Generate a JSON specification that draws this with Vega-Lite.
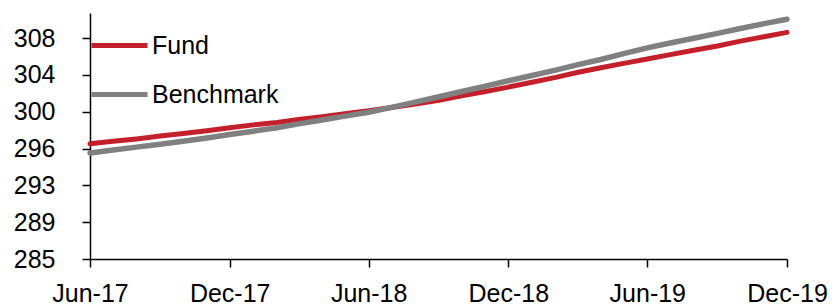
{
  "$schema": "https://vega.github.io/schema/vega-lite/v6.json",
  "width": 697,
  "height": 246,
  "autosize": "none",
  "padding": {"left": 90, "top": 13, "right": 46, "bottom": 47},
  "background": "white",
  "config": {
    "view": {"stroke": null},
    "axis": {
      "grid": false,
      "domainColor": "black",
      "domainWidth": 1.5,
      "tickColor": "black",
      "tickWidth": 1.5,
      "tickSize": 8,
      "labelFont": "Liberation Sans",
      "labelFontSize": 25,
      "labelColor": "black",
      "title": null,
      "labelOverlap": false
    },
    "legend": {
      "labelFont": "Liberation Sans",
      "labelFontSize": 25,
      "labelColor": "black"
    }
  },
  "data": {
    "values": [
      {"date": "2017-06-01", "Fund": 296.9, "Benchmark": 295.95},
      {"date": "2017-07-01", "Fund": 297.15, "Benchmark": 296.25},
      {"date": "2017-08-01", "Fund": 297.4, "Benchmark": 296.55},
      {"date": "2017-09-01", "Fund": 297.7, "Benchmark": 296.85},
      {"date": "2017-10-01", "Fund": 297.95, "Benchmark": 297.15},
      {"date": "2017-11-01", "Fund": 298.25, "Benchmark": 297.5},
      {"date": "2017-12-01", "Fund": 298.55, "Benchmark": 297.85},
      {"date": "2018-01-01", "Fund": 298.85, "Benchmark": 298.2},
      {"date": "2018-02-01", "Fund": 299.1, "Benchmark": 298.55},
      {"date": "2018-03-01", "Fund": 299.4, "Benchmark": 298.95},
      {"date": "2018-04-01", "Fund": 299.7, "Benchmark": 299.35},
      {"date": "2018-05-01", "Fund": 300.0, "Benchmark": 299.75},
      {"date": "2018-06-01", "Fund": 300.3, "Benchmark": 300.15},
      {"date": "2018-07-01", "Fund": 300.65, "Benchmark": 300.65},
      {"date": "2018-08-01", "Fund": 301.0, "Benchmark": 301.2},
      {"date": "2018-09-01", "Fund": 301.4, "Benchmark": 301.75},
      {"date": "2018-10-01", "Fund": 301.85, "Benchmark": 302.3},
      {"date": "2018-11-01", "Fund": 302.3, "Benchmark": 302.85},
      {"date": "2018-12-01", "Fund": 302.75, "Benchmark": 303.4},
      {"date": "2019-01-01", "Fund": 303.25, "Benchmark": 303.95},
      {"date": "2019-02-01", "Fund": 303.75, "Benchmark": 304.5},
      {"date": "2019-03-01", "Fund": 304.25, "Benchmark": 305.05},
      {"date": "2019-04-01", "Fund": 304.75, "Benchmark": 305.6},
      {"date": "2019-05-01", "Fund": 305.2, "Benchmark": 306.2},
      {"date": "2019-06-01", "Fund": 305.65, "Benchmark": 306.8},
      {"date": "2019-07-01", "Fund": 306.1, "Benchmark": 307.3},
      {"date": "2019-08-01", "Fund": 306.55, "Benchmark": 307.8},
      {"date": "2019-09-01", "Fund": 307.0, "Benchmark": 308.3},
      {"date": "2019-10-01", "Fund": 307.5, "Benchmark": 308.8},
      {"date": "2019-11-01", "Fund": 307.95, "Benchmark": 309.3},
      {"date": "2019-12-01", "Fund": 308.4, "Benchmark": 309.75}
    ]
  },
  "transform": [
    {"fold": ["Fund", "Benchmark"], "as": ["series", "value"]}
  ],
  "encoding": {
    "x": {
      "field": "date",
      "type": "temporal",
      "scale": {
        "type": "utc",
        "domain": [
          {"year": 2017, "month": 6, "date": 1, "utc": true},
          {"year": 2019, "month": 12, "date": 1, "utc": true}
        ]
      },
      "axis": {
        "values": [
          {"year": 2017, "month": 6, "date": 1, "utc": true},
          {"year": 2017, "month": 12, "date": 1, "utc": true},
          {"year": 2018, "month": 6, "date": 1, "utc": true},
          {"year": 2018, "month": 12, "date": 1, "utc": true},
          {"year": 2019, "month": 6, "date": 1, "utc": true},
          {"year": 2019, "month": 12, "date": 1, "utc": true}
        ],
        "labelExpr": "utcFormat(datum.value, '%b-%y')",
        "labelFlush": false,
        "labelPadding": 14
      }
    },
    "y": {
      "field": "value",
      "type": "quantitative",
      "scale": {"domain": [285, 310.4], "zero": false, "nice": false},
      "axis": {
        "values": [285, 288.8, 292.6, 296.4, 300.2, 304, 307.8],
        "format": ".0f",
        "labelPadding": 27
      }
    },
    "color": {
      "field": "series",
      "type": "nominal",
      "scale": {"domain": ["Fund", "Benchmark"], "range": ["#C4202B", "#808080"]},
      "legend": {
        "title": null,
        "orient": "none",
        "legendX": -1,
        "legendY": 2,
        "padding": 0,
        "symbolType": "stroke",
        "symbolSize": 3136,
        "symbolStrokeWidth": 5,
        "labelOffset": 2,
        "rowPadding": 5
      }
    }
  },
  "layer": [
    {
      "transform": [{"filter": "datum.series === 'Fund'"}],
      "mark": {"type": "line", "strokeWidth": 5, "strokeCap": "round"}
    },
    {
      "transform": [{"filter": "datum.series === 'Benchmark'"}],
      "mark": {"type": "line", "strokeWidth": 5.5, "strokeCap": "round"}
    }
  ]
}
